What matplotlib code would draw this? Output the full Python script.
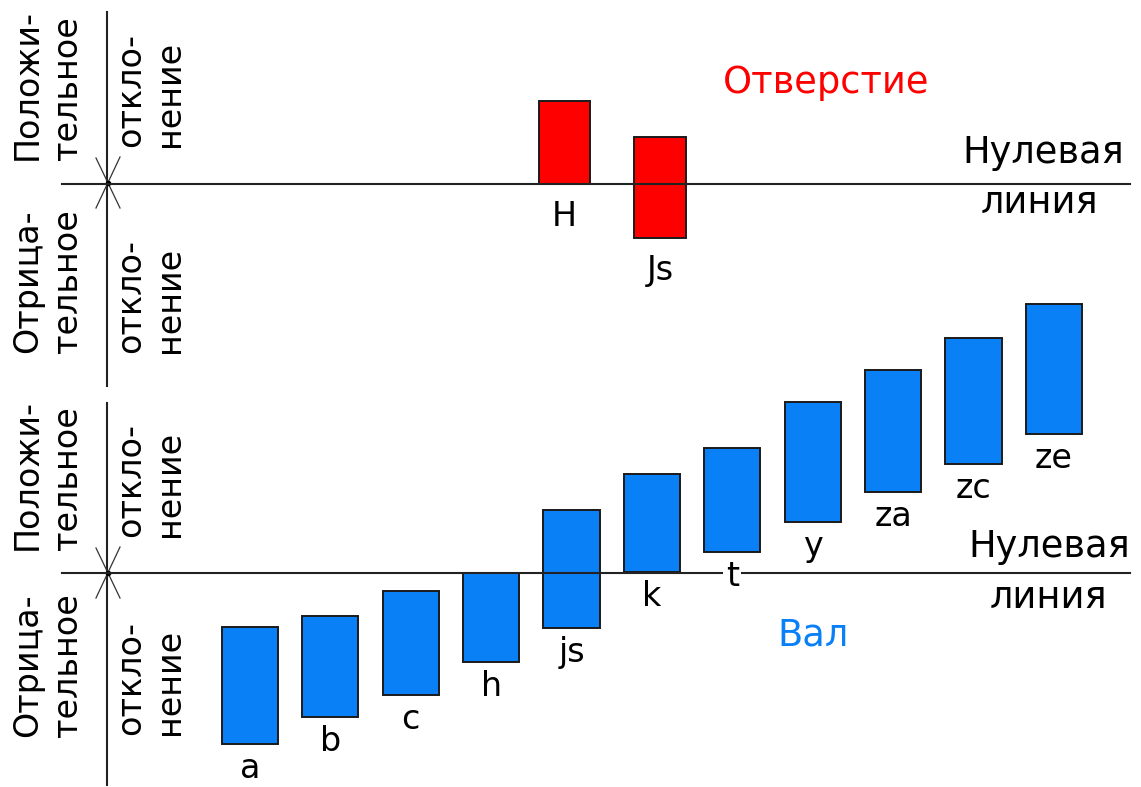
import matplotlib
matplotlib.use("Agg")
import matplotlib.pyplot as plt
import numpy as np

plt.rcParams['font.family'] = ['DejaVu Sans']

# ---- data: tolerance fields (upper / lower deviation, arbitrary units) ----
hole_labels = ["H", "Js"]
hole_upper = [83, 47]
hole_lower = [0, -54]

shaft_labels = ["a", "b", "c", "h", "js", "k", "t", "y", "za", "zc", "ze"]
shaft_upper = [-54, -43, -18, 0, 63, 99, 125, 171, 203, 235, 269]
shaft_lower = [-171, -144, -122, -89, -55, 1, 21, 51, 81, 109, 139]

hole_title = "Отверстие"
shaft_title = "Вал"
zero_text = "Нулевая\nлиния"
pos_text = ("Положи-\nтельное", "откло-\nнение")
neg_text = ("Отрица-\nтельное", "откло-\nнение")

W, H = 1141, 787
fig = plt.figure(figsize=(W / 100, H / 100), dpi=100)

# overlay axes in pixel units for the decorative frame
ov = fig.add_axes([0, 0, 1, 1])
ov.set_xlim(0, W)
ov.set_ylim(H, 0)
ov.axis("off")

RED = "#ff0000"
BLUE = "#0a80f7"
EDGE = "#1a1a1a"
LINE = "#222222"

# top (hole) axes
axt = fig.add_axes([0, 1 - 393 / H, 1, 393 / H])
axt.set_xlim(-5.911, 6.037)
axt.set_ylim(-209, 184)
axt.axis("off")
axt.patch.set_alpha(0)

# bottom (shaft) axes
axb = fig.add_axes([0, 0, 1, 394 / H])
axb.set_xlim(-3.108, 11.083)
axb.set_ylim(-214, 180)
axb.axis("off")
axb.patch.set_alpha(0)

def draw_fields(ax, labels, upper, lower, color, width, label_gap):
    x = np.arange(len(labels))
    up = np.array(upper, float)
    lo = np.array(lower, float)
    bars = ax.bar(x, up - lo, bottom=lo, width=width, color=color,
                  edgecolor=EDGE, linewidth=1.4, zorder=2)
    for b in bars:
        b.set_clip_on(False)
    ax.axhline(0, xmin=62 / W, xmax=1130 / W, color=LINE, lw=1.5, zorder=3)
    for xi, lab, l in zip(x, labels, lo):
        ax.annotate(lab, (xi, l), xytext=(0, -label_gap),
                    textcoords="offset pixels", ha="center", va="top",
                    fontsize=24, color="black", zorder=5, annotation_clip=False,
                    bbox=dict(boxstyle="square,pad=0.08", fc="white", ec="none"))

draw_fields(axt, hole_labels, hole_upper, hole_lower, RED, 0.539, 16)
draw_fields(axb, shaft_labels, shaft_upper, shaft_lower, BLUE, 0.697, 8)

# vertical axes and the X marks at the origin
for (y0, y1, yc) in [(12, 386, 183), (403, 785, 573)]:
    ov.plot([107, 107], [y0, y1], color=LINE, lw=1.5)
    ov.plot([96, 120], [158 + (yc - 183), 208 + (yc - 183)], color="#333333", lw=0.9)
    ov.plot([120, 96], [157 + (yc - 183), 208 + (yc - 183)], color="#333333", lw=0.9)
    ov.plot([108], [yc], marker="o", ms=3, color="black")

# side labels
lab_kw = dict(rotation=90, fontsize=24, ha="left", va="bottom",
              multialignment="left", linespacing=1.25, color="black")
ov.text(11, 160, pos_text[0], **lab_kw)
ov.text(114, 147, pos_text[1], **lab_kw)
ov.text(11, 353, neg_text[0], **lab_kw)
ov.text(114, 353, neg_text[1], **lab_kw)
ov.text(11, 550, pos_text[0], **lab_kw)
ov.text(114, 537, pos_text[1], **lab_kw)
ov.text(11, 737, neg_text[0], **lab_kw)
ov.text(114, 735, neg_text[1], **lab_kw)

# titles and zero-line captions
ov.text(826, 93, hole_title, color=RED, fontsize=26.5, ha="center", va="baseline")
ov.text(813, 646, shaft_title, color=BLUE, fontsize=26.5, ha="center", va="baseline")
z1, z2 = zero_text.split("\n")
ov.text(1043, 163, z1, fontsize=26.5, ha="center", va="baseline")
ov.text(1039, 213, z2, fontsize=26.5, ha="center", va="baseline")
ov.text(1049, 557, z1, fontsize=26.5, ha="center", va="baseline")
ov.text(1048, 608, z2, fontsize=26.5, ha="center", va="baseline")

fig.savefig("out.png", dpi=100)
